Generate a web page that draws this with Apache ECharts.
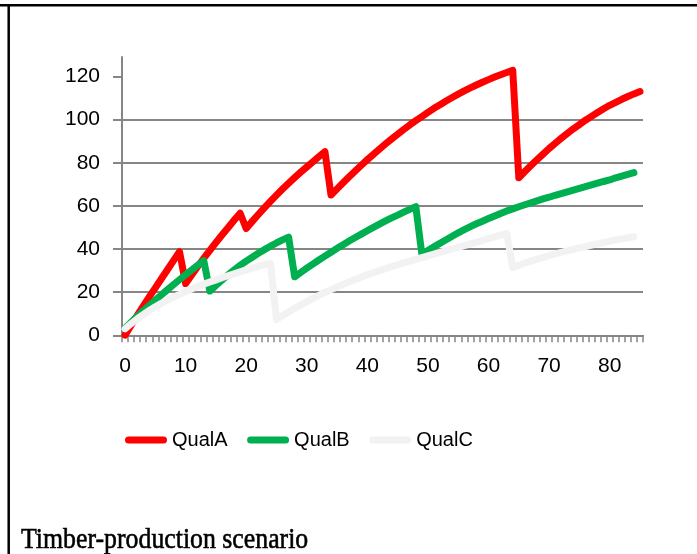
<!DOCTYPE html>
<html>
<head>
<meta charset="utf-8">
<script src="https://cdn.jsdelivr.net/npm/echarts@6/dist/echarts.min.js"></script>
<style>
  html, body { margin: 0; padding: 0; background: #ffffff; }
  #chart { width: 697px; height: 554px; }
</style>
</head>
<body>
<div id="chart"></div>
<script>
// Years of stand development (category axis 0..85)
const years = [];
for (let i = 0; i <= 85; i++) years.push(String(i));

// Standing volume per quality class
const qualA = [
  0, 4.6, 9.1, 13.5, 17.8, 22.0, 26.2, 30.4, 34.6, 38.7,
  24.0, 28.0, 31.9, 35.7, 39.4, 43.0, 46.5, 49.9, 53.3, 56.6,
  49.5, 52.8, 56.0, 59.1, 62.1, 65.0, 67.8, 70.5, 73.1, 75.6, 78.0, 80.4, 82.8, 85.1,
  65.0, 67.9, 70.7, 73.5, 76.2, 78.8, 81.4, 83.9, 86.3, 88.7, 91.0, 93.2, 95.4, 97.5, 99.5, 101.4,
  103.3, 105.2, 106.9, 108.6, 110.2, 111.8, 113.3, 114.7, 116.0, 117.3, 118.5, 119.7, 120.8, 121.8, 122.8,
  73.0, 75.9, 78.7, 81.4, 84.0, 86.6, 89.0, 91.3, 93.5, 95.7, 97.7, 99.7, 101.5, 103.3, 105.0,
  106.6, 108.0, 109.4, 110.7, 111.9, 113.0
];
const qualB = [
  3.3, 6.0, 8.7, 11.3, 13.8, 16.3, 18.7, 21.1, 23.5, 25.8, 28.1, 30.3, 32.5, 34.6,
  20.5, 23.1, 25.6, 28.0, 30.3, 32.4, 34.4, 36.2, 38.0, 39.7, 41.3, 42.8, 44.2, 45.5,
  27.1, 29.1, 31.1, 33.0, 34.9, 36.7, 38.5, 40.3, 42.0, 43.7, 45.3, 46.9, 48.5, 50.0, 51.5, 53.0,
  54.4, 55.7, 57.1, 58.4, 59.6,
  37.5, 39.3, 41.0, 42.7, 44.3, 45.9, 47.5, 49.0, 50.4, 51.7, 52.9, 54.1, 55.3, 56.5, 57.6, 58.6,
  59.6, 60.5, 61.4, 62.3, 63.2, 64.0, 64.9, 65.7, 66.5, 67.3, 68.1, 68.9, 69.7, 70.5, 71.3, 72.0,
  73.0, 73.8, 74.6, 75.4
];
const qualC = [
  3.0, 5.4, 7.6, 9.6, 11.5, 13.2, 14.8, 16.3, 17.7, 19.0, 20.3, 21.5, 22.6, 23.7, 24.7, 25.7,
  26.7, 27.6, 28.5, 29.4, 30.3, 31.1, 31.9, 32.7, 33.4,
  7.3, 9.1, 10.8, 12.5, 14.1, 15.6, 17.1, 18.5, 19.9, 21.2, 22.4, 23.6, 24.8, 25.9, 27.0, 28.0,
  29.0, 30.0, 30.9, 31.8, 32.7, 33.6, 34.4, 35.2, 36.0, 36.8, 37.6, 38.4, 39.2, 40.0, 40.8, 41.6,
  42.4, 43.2, 44.0, 44.8, 45.6, 46.4, 47.2,
  31.5, 32.5, 33.5, 34.4, 35.3, 36.1, 36.9, 37.7, 38.4, 39.1, 39.8, 40.5, 41.1, 41.8, 42.4, 43.0,
  43.6, 44.2, 44.7, 45.2, 45.7
];

const seriesNames = ['QualA', 'QualB', 'QualC'];
const seriesValues = [qualA, qualB, qualC];
const seriesColors = ['#ff0000', '#00b050', '#f2f2f2'];
const yTickValues = [0, 20, 40, 60, 80, 100, 120];
const captionText = 'Timber-production scenario';

const axisGray = '#868686';
const sansFont = '"Liberation Sans", Arial, sans-serif';
// capsule-shaped legend marker (thick line with round ends)
const capsuleIcon = 'path://M3.5,0 H38.5 A3.5,3.5 0 0 1 38.5,7 H3.5 A3.5,3.5 0 0 1 3.5,0 Z';

const chart = echarts.init(document.getElementById('chart'), null, { renderer: 'canvas' });

chart.setOption({
  animation: false,
  backgroundColor: '#ffffff',
  grid: { left: 122, right: 54, top: 57, bottom: 218.7, containLabel: false },
  legend: {
    data: seriesNames,
    icon: capsuleIcon,
    left: 125,
    top: 430,
    padding: 0,
    itemWidth: 42,
    itemHeight: 7,
    itemGap: 19.5,
    textStyle: { fontSize: 20, color: '#000000', fontFamily: sansFont }
  },
  xAxis: {
    type: 'category',
    data: years,
    boundaryGap: true,
    axisLine: { show: true, lineStyle: { color: axisGray, width: 2 } },
    axisTick: { show: true, interval: 0, length: 7, lineStyle: { color: axisGray, width: 1.5 } },
    axisLabel: { interval: 9, fontSize: 21, color: '#000000', margin: 20, fontFamily: sansFont },
    splitLine: { show: false }
  },
  yAxis: {
    type: 'value',
    min: 0,
    max: 129,
    interval: 20,
    axisLine: { show: true, lineStyle: { color: axisGray, width: 2 } },
    axisTick: { show: true, length: 9, customValues: yTickValues, lineStyle: { color: axisGray, width: 2 } },
    axisLabel: { customValues: yTickValues, fontSize: 21, color: '#000000', margin: 22, fontFamily: sansFont },
    splitLine: { show: true, showMaxLine: false, lineStyle: { color: axisGray, width: 2 } }
  },
  series: seriesNames.map((name, i) => ({
    name: name,
    type: 'line',
    data: seriesValues[i],
    symbol: 'none',
    smooth: false,
    color: seriesColors[i],
    lineStyle: { color: seriesColors[i], width: 7, cap: 'round', join: 'round' }
  })),
  graphic: [
    // page frame: top rule and left rule
    { type: 'line', shape: { x1: 0, y1: 5.3, x2: 697, y2: 5.3 }, style: { stroke: '#000000', lineWidth: 2.5 } },
    { type: 'line', shape: { x1: 8.7, y1: 5, x2: 8.7, y2: 554 }, style: { stroke: '#000000', lineWidth: 2.5 } },
    {
      type: 'text',
      x: 21,
      y: 555,
      scaleY: 1.18,
      style: {
        text: captionText,
        font: '25.8px "Liberation Serif", "DejaVu Serif", serif',
        fill: '#000000',
        stroke: '#000000',
        lineWidth: 0.5,
        verticalAlign: 'bottom'
      }
    }
  ]
});
</script>
</body>
</html>
